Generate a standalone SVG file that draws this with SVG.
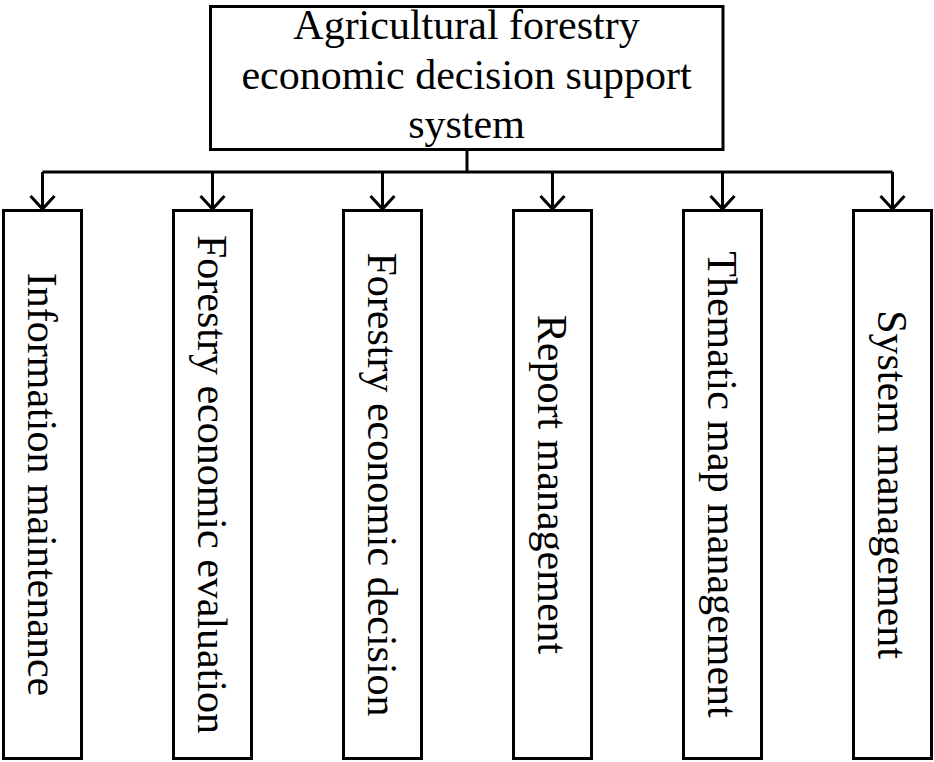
<svg xmlns="http://www.w3.org/2000/svg" width="934" height="762" viewBox="0 0 934 762">
<style>
.box{fill:#fff;stroke:#000;stroke-width:3}
.ln{fill:none;stroke:#000;stroke-width:3}
.t{font-family:"Liberation Serif","Times New Roman",serif;font-size:42px;fill:#000;text-anchor:middle}
</style>
<defs>
<marker id="ah" markerWidth="30" markerHeight="30" refX="14" refY="13" markerUnits="userSpaceOnUse" orient="auto" viewBox="0 0 30 30">
<polyline points="1,1 14,13 1,25" fill="none" stroke="#000" stroke-width="3"/>
</marker>
</defs>
<rect width="934" height="762" fill="#fff"/>
<g id="connectors">
<line class="ln" x1="467" y1="150" x2="467" y2="172"/>
<line class="ln" x1="42.5" y1="172" x2="892.5" y2="172"/>
<line class="ln" x1="42.5" y1="172" x2="42.5" y2="209" marker-end="url(#ah)"/>
<line class="ln" x1="212.5" y1="172" x2="212.5" y2="209" marker-end="url(#ah)"/>
<line class="ln" x1="382.5" y1="172" x2="382.5" y2="209" marker-end="url(#ah)"/>
<line class="ln" x1="552.5" y1="172" x2="552.5" y2="209" marker-end="url(#ah)"/>
<line class="ln" x1="722.5" y1="172" x2="722.5" y2="209" marker-end="url(#ah)"/>
<line class="ln" x1="892.5" y1="172" x2="892.5" y2="209" marker-end="url(#ah)"/>
</g>
<g id="root">
<rect class="box" x="210.5" y="6.5" width="512.5" height="143"/>
<text class="t" x="466.5" y="39">Agricultural forestry</text>
<text class="t" x="466.5" y="89">economic decision support</text>
<text class="t" x="466.5" y="138">system</text>
</g>
<g id="n1">
<rect class="box" x="3.5" y="210.5" width="78" height="548"/>
<text class="t" transform="translate(27.5,484.5) rotate(90)">Information maintenance</text>
</g>
<g id="n2">
<rect class="box" x="173.5" y="210.5" width="78" height="548"/>
<text class="t" transform="translate(197.5,484.5) rotate(90)">Forestry economic evaluation</text>
</g>
<g id="n3">
<rect class="box" x="343.5" y="210.5" width="78" height="548"/>
<text class="t" transform="translate(367.5,484.5) rotate(90)">Forestry economic decision</text>
</g>
<g id="n4">
<rect class="box" x="513.5" y="210.5" width="78" height="548"/>
<text class="t" transform="translate(537.5,484.5) rotate(90)">Report management</text>
</g>
<g id="n5">
<rect class="box" x="683.5" y="210.5" width="78" height="548"/>
<text class="t" transform="translate(707.5,484.5) rotate(90)">Thematic map management</text>
</g>
<g id="n6">
<rect class="box" x="853.5" y="210.5" width="78" height="548"/>
<text class="t" transform="translate(877.5,484.5) rotate(90)">System management</text>
</g>
</svg>
